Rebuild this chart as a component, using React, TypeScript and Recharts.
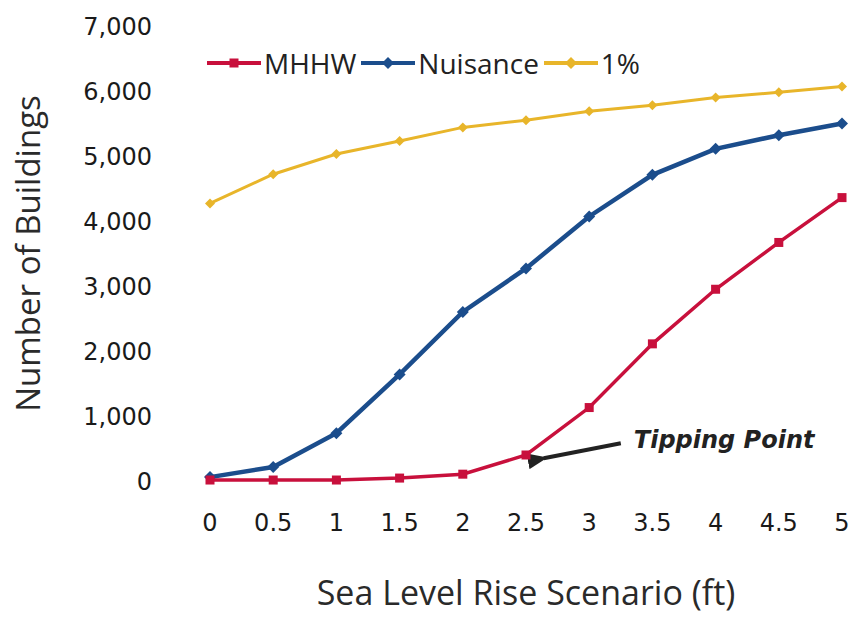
import { Label, Line, LineChart, ReferenceLine, XAxis, YAxis } from 'recharts';

const scenarios = [0, 0.5, 1, 1.5, 2, 2.5, 3, 3.5, 4, 4.5, 5];
const mhhw = [15, 15, 15, 45, 105, 400, 1130, 2110, 2950, 3670, 4360];
const nuisance = [60, 215, 735, 1640, 2600, 3270, 4070, 4710, 5110, 5320, 5500];
const onePercent = [4270, 4720, 5030, 5230, 5440, 5550, 5690, 5780, 5900, 5980, 6070];
const yTicks = [0, 1000, 2000, 3000, 4000, 5000, 6000, 7000];

// annotation arrow, in data units: head (left) and tail (right)
const arrowHead = { x: 2.64, y: 350 };
const arrowTail = { x: 3.25, y: 580 };

const data = scenarios.map((s, i) => ({
  x: s,
  mhhw: mhhw[i],
  nuisance: nuisance[i],
  onePercent: onePercent[i],
}));

const COLORS = { mhhw: '#c8103c', nuisance: '#1b4d8c', onePercent: '#e8b52a' };
const FONT = '"Open Sans", "Noto Sans", sans-serif';
const TICK_FONT = '"DejaVu Sans", sans-serif';

const Square = (props: any) => {
  const { cx, cy, stroke } = props;
  if (cx == null || cy == null) return null;
  return <rect x={cx - 4.5} y={cy - 4.5} width={9} height={9} fill={stroke} />;
};

const Diamond = (size: number) => (props: any) => {
  const { cx, cy, stroke } = props;
  if (cx == null || cy == null) return null;
  return (
    <path
      d={`M${cx},${cy - size} L${cx + size},${cy} L${cx},${cy + size} L${cx - size},${cy} Z`}
      fill={stroke}
    />
  );
};

const legendItems = [
  { label: 'MHHW', color: COLORS.mhhw, marker: 'square' },
  { label: 'Nuisance', color: COLORS.nuisance, marker: 'diamond' },
  { label: '1%', color: COLORS.onePercent, marker: 'diamond' },
];

function ChartLegend() {
  return (
    <div
      style={{
        position: 'absolute',
        left: 207,
        top: 44,
        height: 38,
        display: 'flex',
        alignItems: 'center',
        fontFamily: FONT,
        fontSize: 28,
        color: '#222',
        whiteSpace: 'nowrap',
      }}
    >
      {legendItems.map((it) => (
        <div key={it.label} style={{ display: 'flex', alignItems: 'center', marginRight: 5 }}>
          <svg width={54} height={14}>
            <line x1={0} y1={7} x2={54} y2={7} stroke={it.color} strokeWidth={4} />
            {it.marker === 'square' ? (
              <rect x={22.5} y={2.5} width={9} height={9} fill={it.color} />
            ) : (
              <path d="M27,1 L33,7 L27,13 L21,7 Z" fill={it.color} />
            )}
          </svg>
          <span style={{ marginLeft: 3 }}>{it.label}</span>
        </div>
      ))}
    </div>
  );
}

const ArrowShape = (props: any) => {
  const { x1, y1, x2, y2 } = props;
  if (x1 == null) return null;
  return (
    <g>
      <defs>
        <marker id="arrowHead" markerWidth="5" markerHeight="4" refX="1" refY="2" orient="auto-start-reverse">
          <path d="M0,2 L5,0 L5,4 Z" fill="#222" />
        </marker>
      </defs>
      <line x1={x1} y1={y1} x2={x2} y2={y2} stroke="#222" strokeWidth={4} markerStart="url(#arrowHead)" />
      <text
        x={x2 + 13}
        y={y2 + 5}
        fontFamily={TICK_FONT}
        fontSize={24}
        fontWeight="bold"
        fontStyle="italic"
        fill="#222"
      >
        Tipping Point
      </text>
    </g>
  );
};

export default function App() {
  return (
    <div style={{ position: 'absolute', left: 0, top: 0, width: 851, height: 620, background: '#fff' }}>
      <LineChart width={851} height={620} data={data} margin={{ top: 26, right: 9, bottom: 109, left: 10 }}>
        <XAxis
          dataKey="x"
          type="number"
          domain={[0, 5]}
          ticks={scenarios}
          axisLine={false}
          tickLine={false}
          tickMargin={27}
          height={30}
          tick={{ fontFamily: TICK_FONT, fontSize: 24, fill: '#1a1a1a' }}
        >
          <Label
            value="Sea Level Rise Scenario (ft)"
            position="bottom"
            offset={70}
            style={{ fontFamily: FONT, fontSize: 34, fill: '#2a2a2a' }}
          />
        </XAxis>
        <YAxis
          width={200}
          domain={[0, 7000]}
          ticks={yTicks}
          axisLine={false}
          tickLine={false}
          tickMargin={52}
          tickFormatter={(v: number) => v.toLocaleString('en-US')}
          tick={{ fontFamily: TICK_FONT, fontSize: 24, fill: '#1a1a1a' }}
        >
          <Label
            value="Number of Buildings"
            angle={-90}
            position="insideLeft"
            offset={18}
            style={{ fontFamily: FONT, fontSize: 33, fill: '#2a2a2a', textAnchor: 'middle' }}
          />
        </YAxis>
        <ReferenceLine segment={[arrowHead, arrowTail]} shape={ArrowShape} ifOverflow="visible" />
        <Line
          dataKey="onePercent"
          name="1%"
          stroke={COLORS.onePercent}
          strokeWidth={3}
          dot={Diamond(5)}
          isAnimationActive={false}
        />
        <Line
          dataKey="nuisance"
          name="Nuisance"
          stroke={COLORS.nuisance}
          strokeWidth={4.5}
          dot={Diamond(6)}
          isAnimationActive={false}
        />
        <Line
          dataKey="mhhw"
          name="MHHW"
          stroke={COLORS.mhhw}
          strokeWidth={3.5}
          dot={Square}
          isAnimationActive={false}
        />
      </LineChart>
      <ChartLegend />
    </div>
  );
}
